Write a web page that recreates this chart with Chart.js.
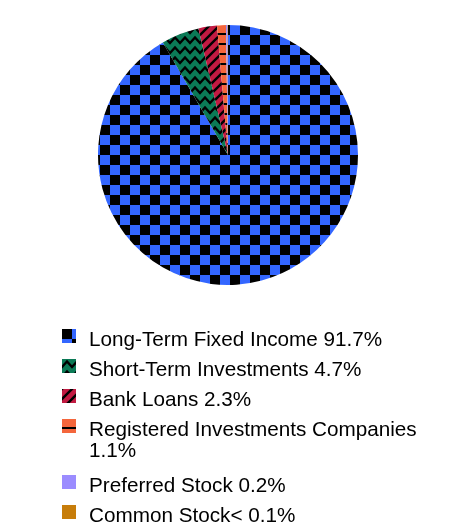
<!DOCTYPE html>
<html>
<head>
<meta charset="utf-8">
<script src="https://cdn.jsdelivr.net/npm/chart.js@4"></script>
<style>
  html, body { margin: 0; padding: 0; background: #fff; }
  body { width: 456px; height: 528px; position: relative; font-family: "Liberation Sans", Arial, sans-serif; }
  #pieBox { position: absolute; left: 0; top: 25px; width: 456px; height: 260px; }
  #legend { position: absolute; left: 62px; top: 328px; margin: 0; padding: 0; list-style: none; }
  #legend li { display: flex; align-items: flex-start; font-size: 20.7px; line-height: 21px; color: #000; margin-bottom: 9px; white-space: nowrap; }
  #legend li.wrap { margin-bottom: 14px; }
  #legend li canvas { flex: none; width: 14px; height: 14px; margin-top: 1px; margin-right: 13px; }
</style>
</head>
<body>
<div id="pieBox"><canvas id="pie"></canvas></div>
<ul id="legend"></ul>
<script>
(function () {
  "use strict";

  /* ── Data ── */
  var labels = [
    "Long-Term Fixed Income 91.7%",
    "Short-Term Investments 4.7%",
    "Bank Loans 2.3%",
    "Registered Investments Companies\n1.1%",
    "Preferred Stock 0.2%",
    "Common Stock< 0.1%"
  ];
  var values = [91.7, 4.7, 2.3, 1.1, 0.2, 0.05];
  var colors = ["#3366ff", "#0b7a56", "#c21a42", "#f4663c", "#9b8cff", "#c77d0a"];
  var patterns = ["checker", "zigzag", "diagonal", "hline", "none", "none"];

  /* ── Pattern tiles ── */
  function makeTile(kind, color) {
    var size = kind === "checker" ? 20 : 10;
    var c = document.createElement("canvas");
    c.width = size; c.height = size;
    var g = c.getContext("2d");
    g.fillStyle = color;
    g.fillRect(0, 0, size, size);
    g.strokeStyle = "#000";
    g.fillStyle = "#000";
    g.lineWidth = 2.4;
    if (kind === "checker") {
      g.fillRect(0, 0, 10, 10);
      g.fillRect(10, 10, 10, 10);
    } else if (kind === "zigzag") {
      g.beginPath();
      g.moveTo(-1, 9); g.lineTo(5, 2.5); g.lineTo(11, 9);
      g.stroke();
    } else if (kind === "diagonal") {
      g.beginPath();
      g.moveTo(-2, 12); g.lineTo(12, -2);
      g.moveTo(-2, 2); g.lineTo(2, -2);
      g.moveTo(8, 12); g.lineTo(12, 8);
      g.stroke();
    } else if (kind === "hline") {
      g.fillRect(0, 8, 10, 2);
    }
    return c;
  }

  function fillFor(ctx, i) {
    if (patterns[i] === "none") return colors[i];
    return ctx.createPattern(makeTile(patterns[i], colors[i]), "repeat");
  }

  var ctx = document.getElementById("pie").getContext("2d");
  var fills = values.map(function (v, i) { return fillFor(ctx, i); });

  new Chart(ctx, {
    type: "pie",
    data: {
      labels: labels,
      datasets: [{
        data: values,
        backgroundColor: fills,
        borderWidth: 0
      }]
    },
    options: {
      responsive: true,
      maintainAspectRatio: false,
      animation: false,
      layout: { padding: 0 },
      plugins: { legend: { display: false }, tooltip: { enabled: false } }
    }
  });

  /* ── HTML legend ── */
  var legend = document.getElementById("legend");
  labels.forEach(function (lab, i) {
    var li = document.createElement("li");
    if (lab.indexOf("\n") >= 0) li.className = "wrap";
    var sw = document.createElement("canvas");
    sw.width = 14; sw.height = 14;
    var sg = sw.getContext("2d");
    sg.fillStyle = fillFor(sg, i);
    sg.fillRect(0, 0, 14, 14);
    li.appendChild(sw);
    var span = document.createElement("span");
    span.innerHTML = lab.split("\n").join("<br>");
    li.appendChild(span);
    legend.appendChild(li);
  });
})();
</script>
</body>
</html>
